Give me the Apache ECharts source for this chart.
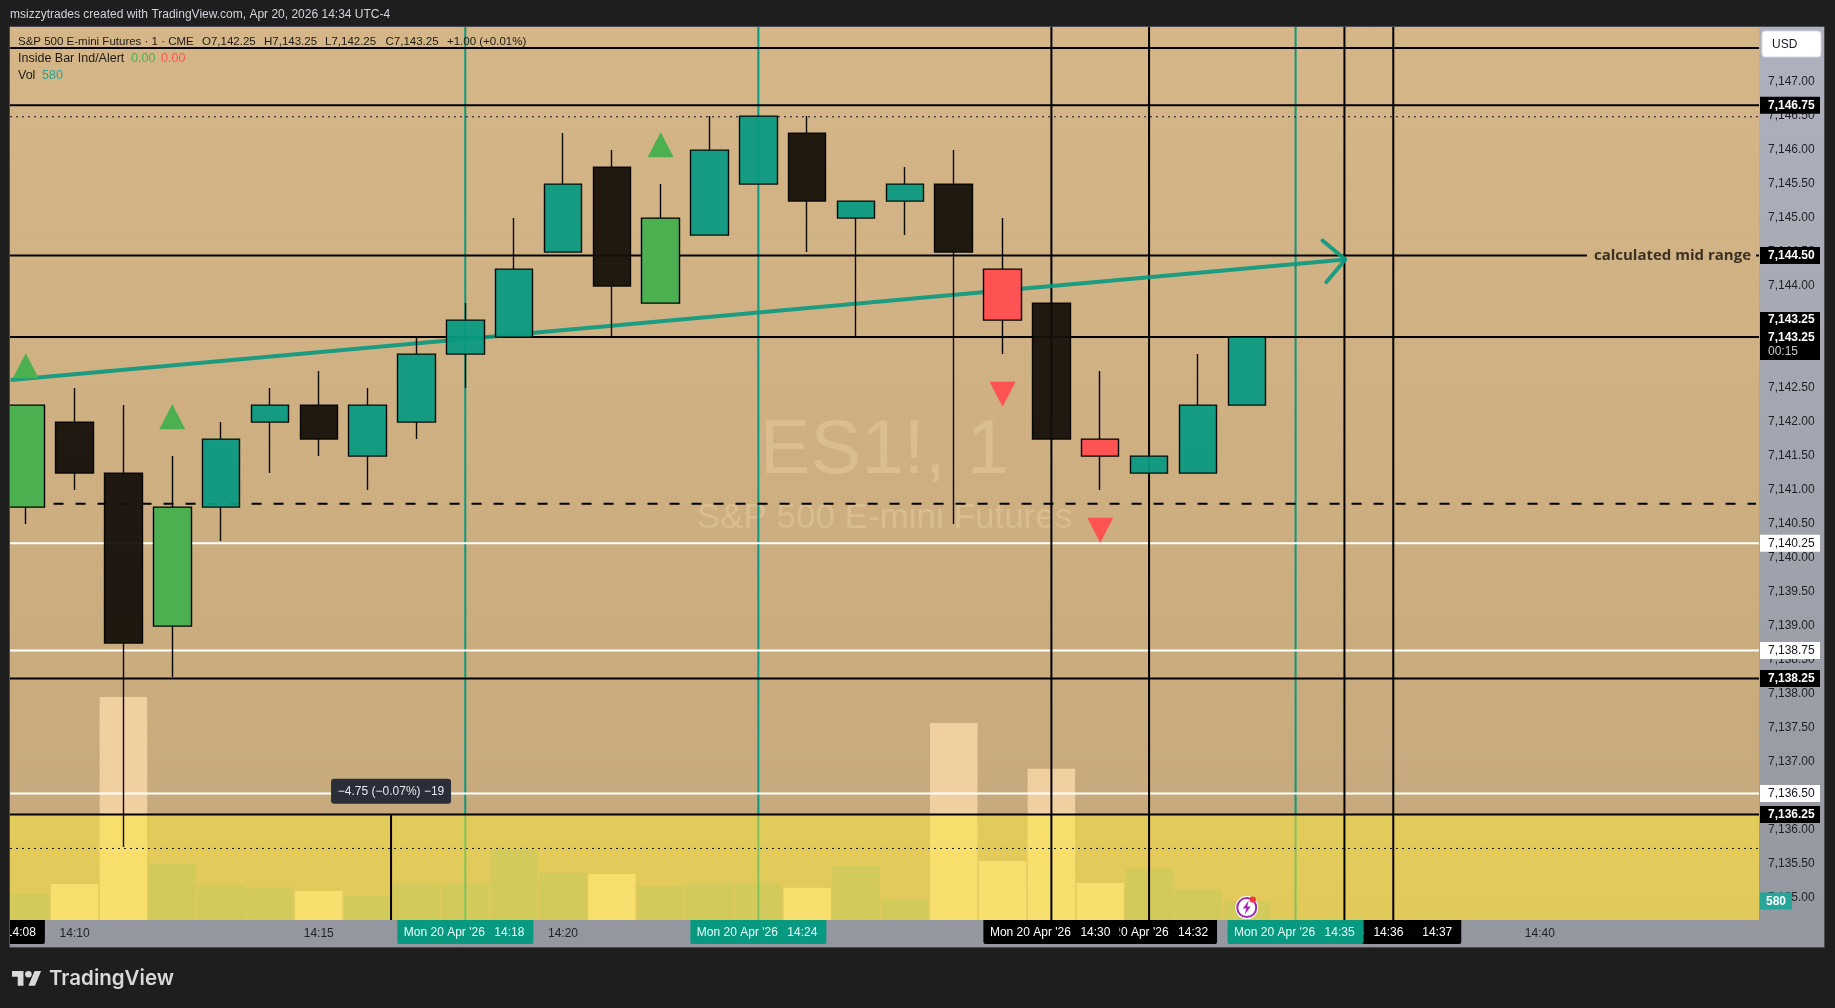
<!DOCTYPE html>
<html><head><meta charset="utf-8">
<style>html,body{margin:0;padding:0;background:#1e1e1e;overflow:hidden}#c{width:1835px;height:1008px}</style>
<script src="https://cdn.jsdelivr.net/npm/echarts@6/dist/echarts.min.js"></script>
</head><body><div id="c"></div>
<script>
// ---------- data ----------
const minutes = [9,10,11,12,13,14,15,16,17,18,19,20,21,22,23,24,25,26,27,28,29,30,31,32,33,34];
const opens   = [7140.75,7142,7141.25,7139,7140.75,7142,7142.25,7141.5,7142,7143,7143.25,7144.5,7145.75,7143.75,7144.75,7145.5,7146.25,7145,7145.25,7145.5,7144.25,7143.75,7141.75,7141.25,7141.25,7142.25];
const highs   = [7142.25,7142.5,7142.25,7141.5,7142,7142.5,7142.75,7142.5,7143.25,7143.75,7145,7146.25,7146,7145.5,7146.5,7146.5,7146.5,7145.25,7145.75,7146,7145,7143.75,7142.75,7141.5,7143,7143.25];
const lows    = [7140.5,7141,7135.75,7138.25,7140.25,7141.25,7141.5,7141,7141.75,7142.5,7143.25,7144.5,7143.25,7143.75,7144.75,7145.5,7144.5,7143.25,7144.75,7140.5,7143,7141.75,7141,7141.25,7141.25,7142.25];
const closes  = [7142.25,7141.25,7138.75,7140.75,7141.75,7142.25,7141.75,7142.25,7143,7143.5,7144.25,7145.5,7144,7145,7146,7146.5,7145.25,7145.25,7145.5,7144.5,7143.5,7141.75,7141.5,7141.5,7142.25,7143.25];
const volumes = [820,1100,6800,1710,1070,980,890,730,1130,1100,2140,1430,1400,1040,1130,1100,980,1650,610,6010,1800,4610,1130,1560,920,580];
const insideUpMinutes = [9,12,22];
const insideDownMinutes = [29,31];
const upSignals = [[9,7142.83],[12,7142.08],[22,7146.08]];
const downSignals = [[29,7142.41],[31,7140.41]];
const trendLine = [[8.69,7142.62],[36.02,7144.39]];
const trendArrow = [[35.55,7144.67],[36.02,7144.39],[35.63,7144.06]];
const priceTicks = [7135,7135.5,7136,7136.5,7137,7137.5,7138,7138.5,7139,7139.5,7140,7140.5,7141,7141.5,7142,7142.5,7143,7143.5,7144,7144.5,7145,7145.5,7146,7146.5,7147,7147.5];
const timeTicks = [10,15,20,25,30,35,40];
const blackLevels = [7147.5,7146.66,7144.45,7143.25,7138.23,7136.23];
const whiteLevels = [7140.22,7138.64,7136.54];
const dashedLevel = [[9.57,7140.8]];
const dottedLevels = [7146.49,7135.73];
const blackTagValues = [7146.66,7144.45,7138.23,7136.23];
const blackTagLabels = ['7,146.75','7,144.50','7,138.25','7,136.25'];
const whiteTagValues = [7140.22,7138.64,7136.54];
const whiteTagLabels = ['7,140.25','7,138.75','7,136.50'];
const lastPrice = 7143.25, lastPriceLabel = '7,143.25', countdown = '00:15';
const midRangeLevel = 7144.45, midRangeText = 'calculated mid range';
const tealVerticals = [18,24,35];
const blackVerticals = [30,32,36,37];
const measureMinute = 16.48, measureTop = 7136.23, measureBubbleLevel = 7136.57, measureText = '\u22124.75 (\u22120.07%) \u221219';
const timeTagOrder = [37,36,35,32,30,24,18,8];
const timeTagTeal = [35,24,18];
const dateText = "Mon 20 Apr '26";
const alertIconPoint = [34,7134.86];
const lastVolume = 580;
// ---------- axis extents ----------
const xMin = 8.678, xMax = 44.488, yMin = 7134.678, yMax = 7147.81, volMax = 27240;
const FONT = '"Liberation Sans", Arial, sans-serif';
const fmtPrice = v => v.toLocaleString('en-US',{minimumFractionDigits:2,maximumFractionDigits:2});
const fmtTime = m => '14:' + String(m).padStart(2,'0');

const TEAL='#089981', GREEN='#4caf50', RED='#ff5252', BLACK='#140f09';
const candleData = minutes.map((m,i)=>{
  const inUp = insideUpMinutes.includes(m), inDn = insideDownMinutes.includes(m);
  const up = closes[i] > opens[i];
  const fill = inUp ? GREEN : inDn ? RED : up ? TEAL : BLACK;
  return {value:[m,opens[i],closes[i],lows[i],highs[i]],
    itemStyle:{color:fill,color0:fill,borderColor:'#000',borderColor0:'#000',borderColorDoji:'#000',borderWidth:1.4,opacity:inUp||inDn?1:0.94}};
});
const volData = minutes.map((m,i)=>({value:[m,volumes[i]],itemStyle:{color: closes[i]>opens[i] ? '#a9a97e' : '#f0d0a0'}}));

function hLineSeries(values,color,width,dash,z){
  return {type:'custom',z,silent:true,data:values.map(v=>[xMin,v]),encode:{x:0,y:1},
    renderItem(p,api){
      const y=api.coord([xMin,api.value(1)])[1], c=p.coordSys;
      return {type:'line',shape:{x1:c.x,y1:y,x2:c.x+c.width,y2:y},style:{stroke:color,lineWidth:width,lineDash:dash||null}};
    }};
}
function vLineSeries(values,color,width,z){
  return {type:'custom',z,silent:true,data:values.map(v=>[v,yMax]),encode:{x:0,y:1},
    renderItem(p,api){
      const x=api.coord([api.value(0),yMax])[0], c=p.coordSys;
      return {type:'line',shape:{x1:x,y1:c.y,x2:x,y2:c.y+c.height},style:{stroke:color,lineWidth:width}};
    }};
}
function priceTagSeries(values,labels,bg,fg,weight){
  return {type:'custom',z:9,silent:true,data:values.map((v,i)=>[xMax,v,i]),encode:{x:0,y:1},
    renderItem(p,api){
      const y=api.coord([xMax,api.value(1)])[1], r=p.coordSys.x+p.coordSys.width;
      return {type:'group',children:[
        {type:'rect',shape:{x:r+1,y:y-8.5,width:60,height:17},style:{fill:bg}},
        {type:'text',x:r+9,y:y+0.5,style:{text:labels[api.value(2)],fill:fg,font:weight+' 12px '+FONT,verticalAlign:'middle',align:'left'}}
      ]};
    }};
}

const series = [
  {type:'bar',name:'Vol',z:2,yAxisIndex:1,barWidth:47.5,data:volData,silent:true,encode:{x:0,y:1}},
  vLineSeries(tealVerticals,TEAL,2,3),
  {type:'custom',z:4,silent:true,data:[[xMin,measureTop]],encode:{x:0,y:1},
    renderItem(p,api){
      const a=api.coord([xMin,api.value(1)]), b=api.coord([xMax,yMin]);
      return {type:'rect',shape:{x:a[0],y:a[1],width:b[0]-a[0],height:b[1]-a[1]},style:{fill:'rgba(253,235,58,0.5)'}};
    }},
  hLineSeries(whiteLevels,'#ffffff',2,null,5),
  hLineSeries(blackLevels,'#000000',2,null,5),
  hLineSeries(dottedLevels,'#131722',1,[2,4],5),
  {type:'custom',z:5,silent:true,data:dashedLevel,encode:{x:0,y:1},
    renderItem(p,api){
      const a=api.coord([api.value(0),api.value(1)]), c=p.coordSys;
      return {type:'line',shape:{x1:a[0],y1:a[1],x2:c.x+c.width-3,y2:a[1]},style:{stroke:'#000',lineWidth:2,lineDash:[10,12]}};
    }},
  vLineSeries(blackVerticals,'#000000',2,5),
  {type:'custom',z:5,silent:true,data:[[measureMinute,measureTop]],encode:{x:0,y:1},
    renderItem(p,api){
      const a=api.coord([api.value(0),api.value(1)]), c=p.coordSys;
      return {type:'line',shape:{x1:a[0],y1:a[1],x2:a[0],y2:c.y+c.height},style:{stroke:'#000',lineWidth:2}};
    }},
  {type:'line',z:6,data:trendLine,showSymbol:false,symbol:'none',silent:true,lineStyle:{color:'#089981',width:4,opacity:0.9}},
  {type:'line',z:6,data:trendArrow,showSymbol:false,symbol:'none',silent:true,lineStyle:{color:'#089981',width:4,opacity:0.9,cap:'round',join:'round'}},
  {type:'candlestick',z:7,data:candleData,barWidth:38,silent:true,encode:{x:0,y:[1,2,3,4]}},
  {type:'scatter',z:8,data:upSignals,symbol:'triangle',symbolSize:[26,25],itemStyle:{color:GREEN,opacity:1},silent:true},
  {type:'scatter',z:8,data:downSignals,symbol:'triangle',symbolRotate:180,symbolSize:[26,25],itemStyle:{color:RED,opacity:1},silent:true},
  priceTagSeries(blackTagValues,blackTagLabels,'#000000','#ffffff','bold'),
  priceTagSeries(whiteTagValues,whiteTagLabels,'#ffffff','#131722','normal'),
  // last price block
  {type:'custom',z:9,silent:true,data:[[xMax,lastPrice]],encode:{x:0,y:1},
    renderItem(p,api){
      const y=api.coord([xMax,api.value(1)])[1], r=p.coordSys.x+p.coordSys.width;
      const t=(s,dy,f,w)=>({type:'text',x:r+9,y:y+dy,style:{text:s,fill:f,font:w+' 12px '+FONT,verticalAlign:'middle',align:'left'}});
      return {type:'group',children:[
        {type:'rect',shape:{x:r+1,y:y-25,width:60,height:48},style:{fill:'#000'}},
        t(lastPriceLabel,-17,'#fff','bold'),t(lastPriceLabel,0.5,'#fff','bold'),t(countdown,14.5,'#c8c8c8','normal')
      ]};
    }},
  // volume last-value tag
  {type:'custom',z:9,silent:true,yAxisIndex:1,data:[[xMax,lastVolume]],encode:{x:0,y:1},
    renderItem(p,api){
      const y=api.coord([xMax,api.value(1)])[1], r=p.coordSys.x+p.coordSys.width;
      return {type:'group',children:[
        {type:'rect',shape:{x:r+1,y:y-8.5,width:32,height:17},style:{fill:'#26a69a'}},
        {type:'text',x:r+17,y:y+0.5,style:{text:String(lastVolume),fill:'#fff',font:'bold 12px '+FONT,verticalAlign:'middle',align:'center'}}
      ]};
    }},
  // mid range label
  {type:'custom',z:8,silent:true,data:[[xMax,midRangeLevel]],encode:{x:0,y:1},
    renderItem(p,api){
      const y=api.coord([xMax,api.value(1)])[1], r=p.coordSys.x+p.coordSys.width;
      return {type:'group',children:[
        {type:'rect',shape:{x:r-172,y:y-5,width:169,height:10},style:{fill:'#d0b184'}},
        {type:'text',x:r-8,y:y,style:{text:midRangeText,fill:'#3b3022',font:'bold 15px "Open Sans", sans-serif',verticalAlign:'middle',align:'right'}}
      ]};
    }},
  // time-axis tags
  {type:'custom',z:9,silent:true,data:timeTagOrder.map(m=>[m,yMin]),encode:{x:0,y:1},
    renderItem(p,api){
      const m=api.value(0), x=api.coord([m,yMin])[0], c=p.coordSys, b=c.y+c.height, z=p.dataIndex*2+1;
      const teal=timeTagTeal.includes(m);
      const fg=teal?'#e6fff8':'#ffffff';
      return {type:'group',children:[
        {type:'rect',z2:z,shape:{x:x-68,y:b,width:136,height:24,r:[0,0,2,2]},style:{fill:teal?TEAL:'#000'}},
        {type:'text',z2:z+1,x:x-21,y:b+13,style:{text:dateText,fill:fg,font:'12px '+FONT,align:'center',verticalAlign:'middle'}},
        {type:'text',z2:z+1,x:x+44,y:b+13,style:{text:fmtTime(m),fill:fg,font:'12px '+FONT,align:'center',verticalAlign:'middle'}}
      ]};
    }},
  // measure bubble
  {type:'custom',z:9,silent:true,data:[[measureMinute,measureBubbleLevel]],encode:{x:0,y:1},
    renderItem(p,api){
      const a=api.coord([api.value(0),api.value(1)]);
      return {type:'group',children:[
        {type:'rect',shape:{x:a[0]-60,y:a[1]-12.5,width:120,height:25,r:3},style:{fill:'#2a2e39'}},
        {type:'text',x:a[0],y:a[1],style:{text:measureText,fill:'#e8e8ec',font:'12px '+FONT,align:'center',verticalAlign:'middle'}}
      ]};
    }},
  // alert icon
  {type:'custom',z:9,silent:true,data:[alertIconPoint],encode:{x:0,y:1},
    renderItem(p,api){
      const a=api.coord([api.value(0),api.value(1)]);
      return {type:'group',x:a[0],y:a[1],children:[
        {type:'circle',shape:{cx:0,cy:0,r:11.5},style:{fill:'#fff'}},
        {type:'circle',shape:{cx:0,cy:0,r:9.5},style:{fill:'#fff',stroke:'#9c27b0',lineWidth:2}},
        {type:'polygon',shape:{points:[[2,-7],[-4,1],[-0.5,1],[-2,7],[4,-1],[0.5,-1]]},style:{fill:'#9c27b0'}},
        {type:'circle',shape:{cx:6,cy:-8,r:3.2},style:{fill:'#f23645'}}
      ]};
    }}
];

const txt=(text,x,y,fill,font,extra)=>Object.assign({type:'text',z:20,x,y,style:Object.assign({text,fill,font:font||('12px '+FONT),verticalAlign:'middle',align:'left'},extra||{})});
const LEG='#1f1a12';
const LOGO='#d9d9d9', LS=0.82, LX=12, LY=967.7;
const lp=pts=>pts.map(p=>[LX+p[0]*LS,LY+p[1]*LS]);
const option = {
  animation:false,
  backgroundColor:'#1e1e1e',
  tooltip:{show:false},
  grid:{left:10,right:76,top:27,bottom:88,show:true,borderWidth:0,z:0,
    backgroundColor:{type:'linear',x:0,y:0,x2:0,y2:1,colorStops:[{offset:0,color:'#d5b688'},{offset:1,color:'#c5a87b'}]}},
  xAxis:{type:'value',min:xMin,max:xMax,position:'bottom',splitLine:{show:false},axisLine:{show:false},axisTick:{show:false},
    axisLabel:{customValues:timeTicks,formatter:fmtTime,color:'#1f2126',fontFamily:'Liberation Sans',fontSize:12,margin:8,hideOverlap:false}},
  yAxis:[
    {type:'value',position:'right',min:yMin,max:yMax,splitLine:{show:false},axisLine:{show:false},axisTick:{show:false},
      axisLabel:{customValues:priceTicks,formatter:fmtPrice,color:'#1f2126',fontFamily:'Liberation Sans',fontSize:12,margin:9,align:'left',padding:[1,0,0,0],hideOverlap:false}},
    {type:'value',position:'right',min:0,max:volMax,show:false,splitLine:{show:false}}
  ],
  series,
  graphic:{elements:[
    {type:'rect',z:-5,shape:{x:10,y:27,width:1814,height:920},style:{fill:{type:'linear',x:0,y:0,x2:0,y2:1,colorStops:[{offset:0,color:'#afb2be'},{offset:1,color:'#94979f'}]}}},
    // watermark
    {type:'text',z:1,x:884.5,y:452,style:{text:'ES1!, 1',fill:'rgba(255,230,190,0.26)',font:'76px '+FONT,align:'center',verticalAlign:'middle'}},
    {type:'text',z:1,x:884.5,y:518,style:{text:'S&P 500 E-mini Futures',fill:'rgba(255,230,190,0.26)',font:'35px '+FONT,align:'center',verticalAlign:'middle'}},
    // page chrome
    {type:'rect',z:20,shape:{x:0,y:0,width:9,height:1008},style:{fill:'#1e1e1e'}},
    {type:'rect',z:21,shape:{x:9.5,y:26.5,width:1815,height:921},style:{fill:'none',stroke:'#4a4a4a',lineWidth:1}},
    txt('msizzytrades created with TradingView.com, Apr 20, 2026 14:34 UTC-4',10,15,'#d1d4dc'),
    // legend
    txt('S&P 500 E-mini Futures \u00b7 1 \u00b7 CME',18,42,LEG,'11.5px '+FONT),
    txt('O7,142.25',202,42,LEG,'11.5px '+FONT), txt('H7,143.25',264,42,LEG,'11.5px '+FONT), txt('L7,142.25',325,42,LEG,'11.5px '+FONT), txt('C7,143.25',385.5,42,LEG,'11.5px '+FONT),
    txt('+1.00 (+0.01%)',447,42,LEG,'11.5px '+FONT),
    txt('Inside Bar Ind/Alert',18,59,LEG,'12.5px '+FONT), txt('0.00',131,59,GREEN,'12.5px '+FONT), txt('0.00',161,59,RED,'12.5px '+FONT),
    txt('Vol',18,76,LEG,'12.5px '+FONT), txt('580',42,76,'#26a69a','12.5px '+FONT),
    // USD button
    {type:'rect',z:20,shape:{x:1762,y:31,width:59,height:26,r:3},style:{fill:'#ffffff',stroke:'#d8dae0',lineWidth:1}},
    txt('USD',1772,44.5,'#131722'),
    // TradingView logo
    {type:'polygon',z:20,shape:{points:lp([[14,22],[7,22],[7,11],[0,11],[0,4],[14,4]])},style:{fill:LOGO}},
    {type:'polygon',z:20,shape:{points:lp([[28,22],[20,22],[27.5,4],[35.5,4]])},style:{fill:LOGO}},
    {type:'circle',z:20,shape:{cx:LX+20*LS,cy:LY+8*LS,r:4*LS},style:{fill:LOGO}},
    txt('TradingView',49,978.5,LOGO,'600 20.5px Inter, sans-serif')
  ]}
};
const chart = echarts.init(document.getElementById('c'),null,{renderer:'canvas'});
chart.setOption(option);
</script></body></html>
